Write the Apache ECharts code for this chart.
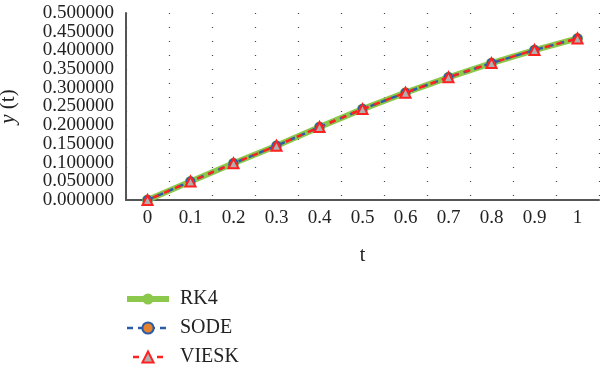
<!DOCTYPE html>
<html><head><meta charset="utf-8">
<script src="https://cdn.jsdelivr.net/npm/echarts@6/dist/echarts.min.js"></script>
<style>html,body{margin:0;padding:0;background:#fff}#c{width:600px;height:371px}</style>
</head><body><div id="c"></div>
<script>
var categories = ['0','0.1','0.2','0.3','0.4','0.5','0.6','0.7','0.8','0.9','1'];
var rk4   = [0, 0.0495, 0.098, 0.145, 0.195, 0.243, 0.287, 0.328, 0.366, 0.401, 0.432];
var sode  = [0, 0.0495, 0.098, 0.145, 0.195, 0.243, 0.287, 0.328, 0.366, 0.401, 0.432];
var viesk = [0, 0.0495, 0.098, 0.145, 0.195, 0.243, 0.287, 0.328, 0.366, 0.401, 0.432];
var seriesNames = ['RK4','SODE','VIESK'];

var font = 'Liberation Serif';
var labelStyle = {fontFamily: font, fontSize: 19, color: '#222', margin: 12};
var chart = echarts.init(document.getElementById('c'));
chart.setOption({
  animation: false,
  grid: {left: 126, right: 1, top: 13, bottom: 171, outerBoundsMode: 'none', containLabel: false},
  legend: {
    orient: 'vertical', left: 124, top: 288, padding: 0, itemWidth: 42, itemHeight: 14, itemGap: 7,
    height: 90,
    textStyle: {fontFamily: font, fontSize: 20, color: '#222', padding: [0, 0, 0, 6], lineHeight: 22},
    data: [
      {name: seriesNames[0], lineStyle: {width: 6, color: '#8cc84b'}},
      {name: seriesNames[1], lineStyle: {width: 2.5, color: '#2a5ca8', type: [6, 5]}},
      {name: seriesNames[2], lineStyle: {width: 2.5, color: '#ff2020', type: [6, 6]}}
    ]
  },
  xAxis: {
    type: 'category', data: categories, boundaryGap: true,
    name: 't', nameLocation: 'middle', nameGap: 46,
    nameTextStyle: {fontFamily: font, fontSize: 20, color: '#222'},
    axisLine: {lineStyle: {color: '#555', width: 2}},
    axisTick: {show: false},
    axisLabel: {fontFamily: font, fontSize: 19, color: '#222', margin: 9},
    splitLine: {show: true, lineStyle: {color: '#444', type: [1, 13], width: 1.2}}
  },
  yAxis: [{
    type: 'value', min: 0, max: 0.5, interval: 0.1, position: 'left',
    name: '{i|y} (t)', nameLocation: 'middle', nameGap: 107, nameRotate: 90,
    nameTextStyle: {fontFamily: font, fontSize: 21, color: '#222',
      rich: {i: {fontFamily: font, fontStyle: 'italic', fontSize: 21, color: '#222'}}},
    axisLine: {show: true, lineStyle: {color: '#555', width: 2}},
    axisTick: {show: false},
    axisLabel: Object.assign({formatter: function (v) { return v.toFixed(6); }}, labelStyle),
    splitLine: {show: false}
  }, {
    type: 'value', min: 0, max: 0.5, interval: 0.05, position: 'left', offset: 0,
    axisLine: {show: false}, axisTick: {show: false}, splitLine: {show: false},
    axisLabel: Object.assign({showMinLabel: false, showMaxLabel: false,
      formatter: function (v) { return Math.round(v * 100) % 10 === 0 ? '' : v.toFixed(6); }}, labelStyle)
  }],
  series: [
    {name: seriesNames[0], type: 'line', data: rk4, symbol: 'circle', symbolSize: 11,
     lineStyle: {color: '#8cc84b', width: 6}, itemStyle: {color: '#8cc84b'}, z: 1},
    {name: seriesNames[1], type: 'line', data: sode, symbol: 'circle', symbolSize: 8,
     lineStyle: {color: '#2a5ca8', width: 2.5, type: [6, 5]},
     itemStyle: {color: '#e8822a', borderColor: '#2a5ca8', borderWidth: 2}, z: 2},
    {name: seriesNames[2], type: 'line', data: viesk, symbol: 'triangle', symbolSize: 10,
     lineStyle: {color: '#ff2020', width: 2.5, type: [6, 6], dashOffset: 6},
     itemStyle: {color: '#b0b0b0', borderColor: '#ff2020', borderWidth: 2}, z: 3}
  ]
});
</script></body></html>
